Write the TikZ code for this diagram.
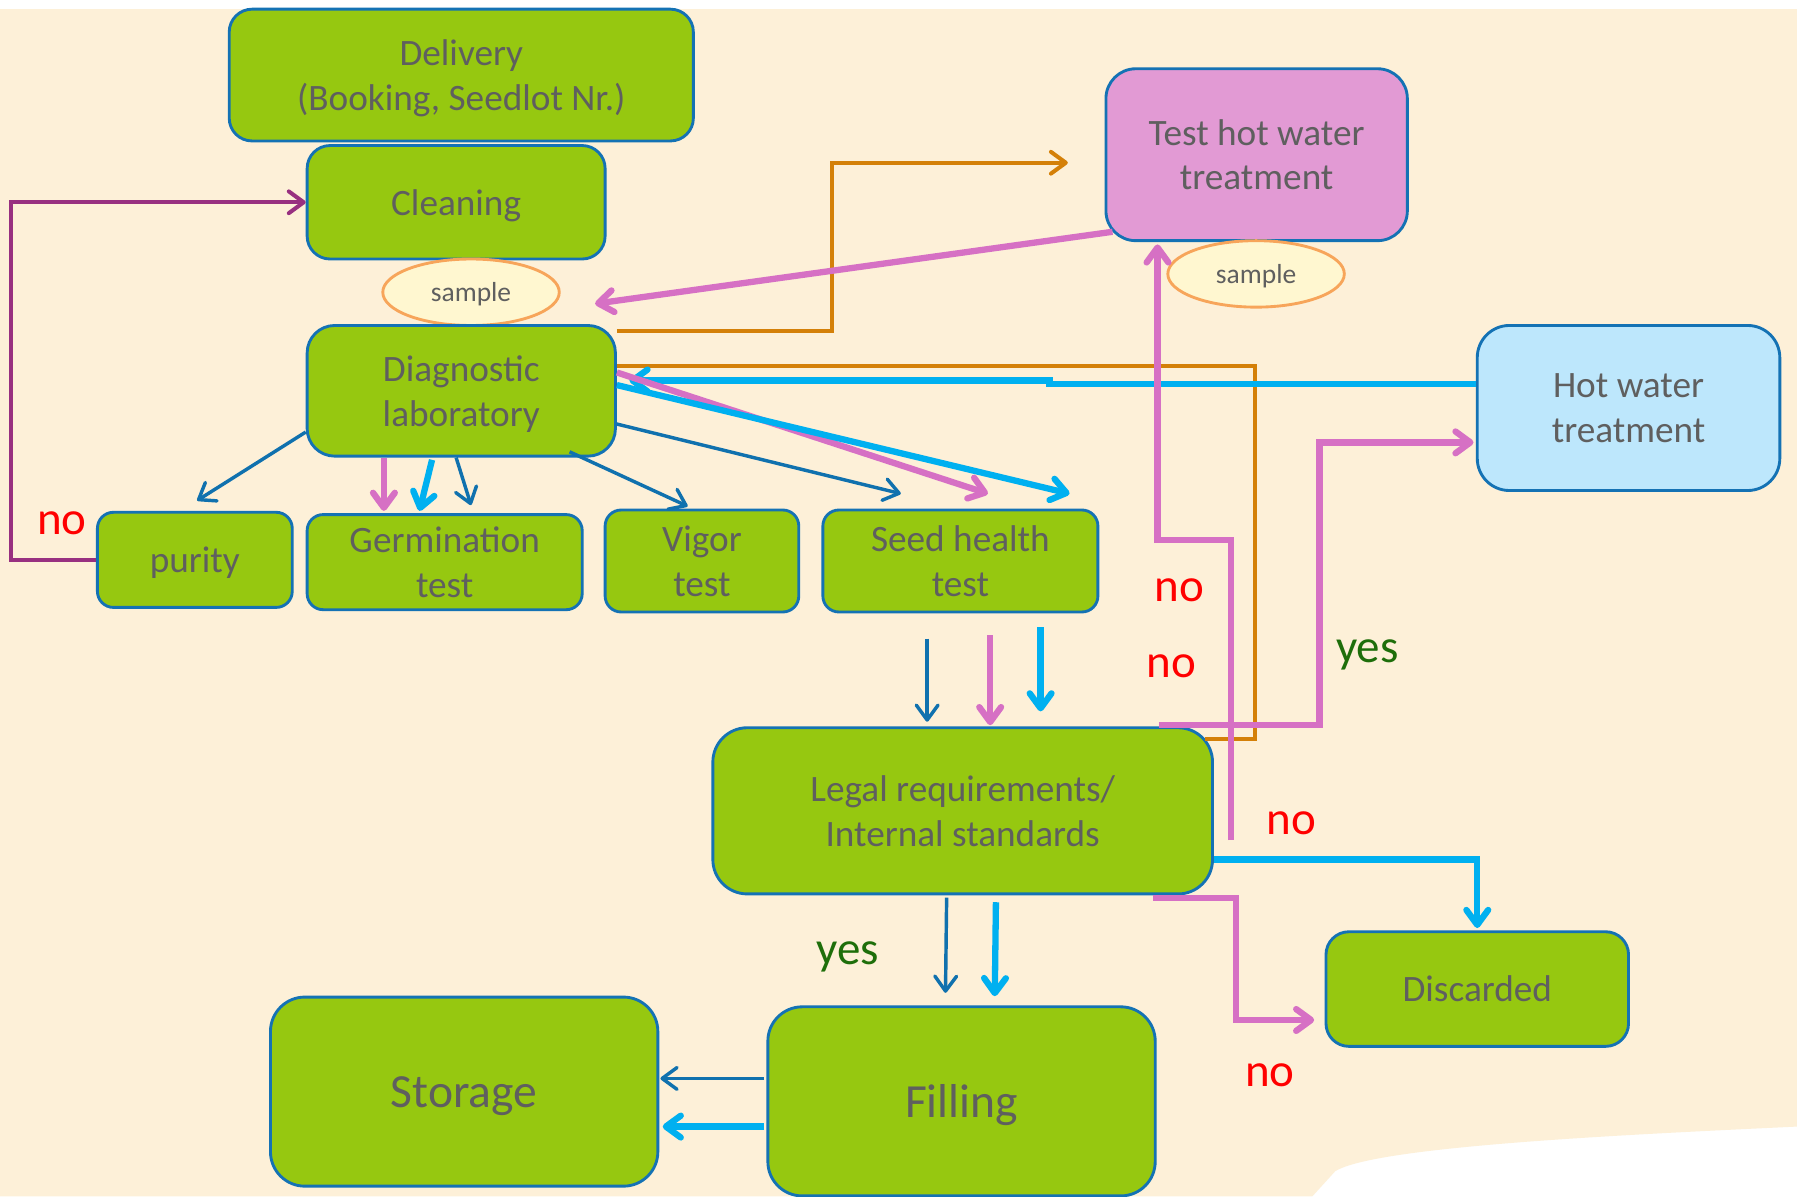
\documentclass[tikz,border=0pt]{standalone}
\usepackage{fontspec}
\setmainfont{Carlito}
\usetikzlibrary{arrows.meta,shapes.geometric,calc}
\definecolor{cream}{RGB}{253,240,216}
\definecolor{boxgreen}{RGB}{150,200,16}
\definecolor{bordc}{RGB}{20,114,180}
\definecolor{dblue}{RGB}{16,113,174}
\definecolor{lblue}{RGB}{0,176,240}
\definecolor{pinkc}{RGB}{214,112,196}
\definecolor{thwtfill}{RGB}{226,154,212}
\definecolor{hwtfill}{RGB}{189,231,252}
\definecolor{orangec}{RGB}{212,128,8}
\definecolor{purpc}{RGB}{152,48,128}
\definecolor{sampfill}{RGB}{255,247,208}
\definecolor{sampbord}{RGB}{247,165,90}
\definecolor{txtgray}{RGB}{95,95,95}
\definecolor{yesgreen}{RGB}{30,110,10}
\begin{document}
\begin{tikzpicture}[x=1pt,y=-1pt,
  box/.style={draw=bordc, line width=2.5pt, fill=boxgreen, rounded corners=20pt,
    text=txtgray, align=center, font=\fontsize{32.5}{39}\selectfont, inner sep=0pt, text depth=0pt},
  smallbox/.style={box, rounded corners=14pt},
  bigbox/.style={box, rounded corners=30pt},
  sampleell/.style={ellipse, draw=sampbord, line width=2.5pt, fill=sampfill,
    text=txtgray, font=\fontsize{24}{28}\selectfont, inner sep=0pt, text depth=0pt},
  tip/.style={-{Straight Barb[length=13pt,width=19pt,round]}},
  dbl/.style={draw=dblue, line width=3pt, tip},
  lbl/.style={draw=lblue, line width=5.5pt, tip},
  pkl/.style={draw=pinkc, line width=5.5pt, tip},
  orl/.style={draw=orangec, line width=3.5pt},
  pul/.style={draw=purpc, line width=3.5pt, tip},
  nolab/.style={text=red, font=\fontsize{41}{43}\selectfont, inner sep=0pt},
  yeslab/.style={text=yesgreen, font=\fontsize{41}{43}\selectfont, inner sep=0pt}
]
% background
\useasboundingbox (0,0) rectangle (1568,1044);
\fill[white] (0,0) rectangle (1568,1044);
\fill[cream] (0,8) -- (1568,8) -- (1568,983)
  .. controls (1420,990) and (1200,1000) .. (1165,1022) -- (1145,1044) -- (0,1044) -- cycle;

% nodes
\node[box, minimum width=405pt, minimum height=115pt] (deliv) at (402.5,65.5) {Delivery\\(Booking, Seedlot Nr.)};
\node[box, minimum width=260pt, minimum height=99pt] (clean) at (398,176.5) {Cleaning};
\node[sampleell, minimum width=154pt, minimum height=58pt] (samp1) at (411,255) {sample};
\node[box, rounded corners=24pt, minimum width=269pt, minimum height=114pt] (diag) at (402.5,341) {Diagnostic\\laboratory};
\node[smallbox, minimum width=170pt, minimum height=83pt] (purity) at (170,488.5) {purity};
\node[smallbox, minimum width=240pt, minimum height=83pt] (germ) at (388,490.5) {Germination\\test};
\node[smallbox, minimum width=169pt, minimum height=89pt] (vigor) at (612.5,489.5) {Vigor\\test};
\node[smallbox, minimum width=240pt, minimum height=89pt] (seed) at (838,489.5) {Seed health\\test};
\node[box, fill=thwtfill, rounded corners=26pt, minimum width=263pt, minimum height=150pt] (thwt) at (1096.5,135) {Test hot water\\treatment};
\node[sampleell, minimum width=154pt, minimum height=58pt] (samp2) at (1096,239) {sample};
\node[box, fill=hwtfill, rounded corners=28pt, minimum width=264pt, minimum height=144pt] (hwt) at (1421,356) {Hot water\\treatment};
\node[bigbox, minimum width=436pt, minimum height=145pt] (legal) at (840,707.5) {Legal requirements/\\Internal standards};
\node[box, minimum width=264pt, minimum height=100pt] (disc) at (1289,863) {Discarded};
\node[bigbox, minimum width=338pt, minimum height=165pt, font=\fontsize{41.5}{46}\selectfont] (stor) at (405,952.5) {Storage};
\node[bigbox, minimum width=338pt, minimum height=165pt, font=\fontsize{41.5}{46}\selectfont] (fill) at (839,961) {Filling};

% orange connectors
\draw[orl, -{Straight Barb[length=13pt,width=19pt,round]}] ([yshift=-6pt]diag.north east) -- ++(188,0) |- ([xshift=-32pt,yshift=-7pt]thwt.west);
\draw[orl] ([yshift=22pt]diag.east) -- ++(557,0) |- ([xshift=-8pt,yshift=-11pt]legal.north east);

% purple loop back to cleaning
\draw[pul] (purity.west) -- ++(-74,0) |- (clean.west);

% light blue from hot water treatment back to lab
\draw[lbl] ([yshift=21pt]hwt.west) -- ++(-372,0) |- ([xshift=11pt,yshift=9pt]diag.east);

% lab to tests
\draw[pkl] ([yshift=16pt]diag.east) -- ([xshift=24pt,yshift=13pt]seed.north);
\draw[lbl] ([yshift=5pt]diag.east) -- ([xshift=-26pt,yshift=13pt]seed.north east);
\draw[dbl] ([yshift=-29pt]diag.east) -- ([xshift=-52pt,yshift=13pt]seed.north);
\draw[dbl] ([xshift=94.5pt,yshift=5pt]diag.south) -- ([xshift=-12.5pt,yshift=2pt]vigor.north);
\draw[dbl] ([yshift=-36pt]diag.west) -- ([xshift=2pt,yshift=9pt]purity.north);
\draw[pkl] ([xshift=-67.5pt]diag.south) -- ([xshift=-53pt,yshift=2pt]germ.north);
\draw[lbl] ([xshift=-25.5pt,yshift=-2pt]diag.south) -- ([xshift=-22pt,yshift=2pt]germ.north);
\draw[dbl] ([xshift=-4.5pt]diag.south) -- ([xshift=23pt,yshift=7pt]germ.north);

% seed health to legal
\draw[dbl] ([xshift=-29pt,yshift=-22pt]seed.south) -- ([xshift=-31pt,yshift=4pt]legal.north);
\draw[pkl] ([xshift=26pt,yshift=-19pt]seed.south) -- ([xshift=24pt,yshift=1pt]legal.north);
\draw[lbl] ([xshift=70pt,yshift=-12pt]seed.south) -- ([xshift=68pt,yshift=13pt]legal.north);

% test sample from lab
\draw[pkl] ([xshift=7pt,yshift=9pt]thwt.south west) -- ([xshift=30pt,yshift=-10pt]samp1.east);

% legal outputs
\draw[pkl] ([xshift=15pt,yshift=-25.5pt]legal.east) -- ++(0,-262) -| ([xshift=-86.5pt,yshift=-2pt]thwt.south);
\draw[pkl] ([xshift=-48pt,yshift=1pt]legal.north east) -- ++(140,0) |- ([xshift=-2pt,yshift=-30pt]hwt.west);
\draw[lbl] ([yshift=-42.5pt]legal.east) -| ([yshift=2pt]disc.north);
\draw[pkl] ([xshift=-53pt,yshift=-2pt]legal.south east) -- ++(72,0) |- ([xshift=-9pt,yshift=-27pt]disc.west);
\draw[dbl] ([xshift=-14pt,yshift=-2pt]legal.south) -- ([xshift=-14pt,yshift=11pt]fill.north);
\draw[lbl] ([xshift=29pt,yshift=-6pt]legal.south) -- ([xshift=29pt,yshift=8pt]fill.north);

% filling to storage
\draw[dbl] ([xshift=-2pt,yshift=20pt]fill.west) -- ([xshift=1pt,yshift=11.5pt]stor.east);
\draw[lbl] ([xshift=-2pt,yshift=-22pt]fill.west) -- ([xshift=3pt,yshift=-30.5pt]stor.east);

% labels
\node[nolab] (no1) at (54,457) {no};
\node[nolab] (no2) at (1029,515) {no};
\node[nolab] (no3) at (1022,581) {no};
\node[nolab] (no4) at (1127,718) {no};
\node[nolab] (no5) at (1108,938) {no};
\node[yeslab, anchor=base] (yes1) at (1193,578) {yes};
\node[yeslab, anchor=base] (yes2) at (740,842) {yes};
\end{tikzpicture}
\end{document}
